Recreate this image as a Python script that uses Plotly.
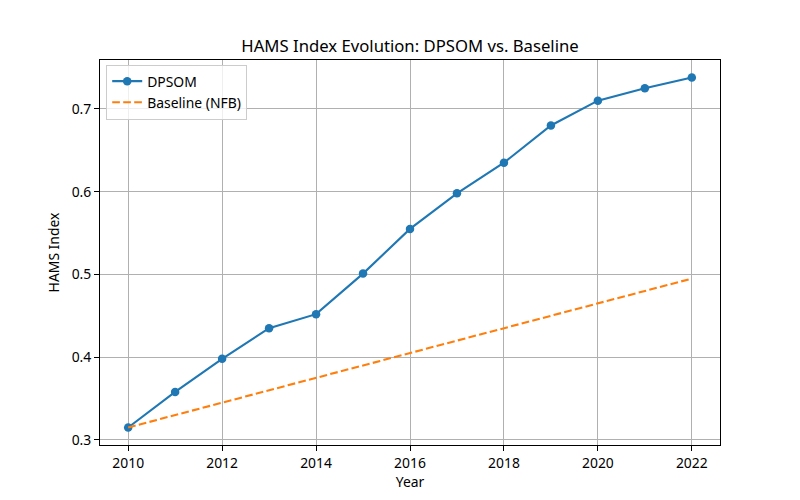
import plotly.graph_objects as go

years = [2010, 2011, 2012, 2013, 2014, 2015, 2016, 2017, 2018, 2019, 2020, 2021, 2022]
dpsom = [0.315, 0.358, 0.398, 0.435, 0.452, 0.501, 0.555, 0.598, 0.635, 0.680, 0.710, 0.725, 0.738]
baseline = [0.315, 0.330, 0.345, 0.360, 0.375, 0.390, 0.405, 0.420, 0.435, 0.450, 0.465, 0.480, 0.495]
x_ticks = [2010, 2012, 2014, 2016, 2018, 2020, 2022]
y_ticks = [0.3, 0.4, 0.5, 0.6, 0.7]

FONT = "Noto Sans, DejaVu Sans, sans-serif"

fig = go.Figure()
fig.add_trace(go.Scatter(
    x=years, y=dpsom, mode="lines+markers", name="DPSOM",
    line=dict(color="#1f77b4", width=2.1),
    marker=dict(color="#1f77b4", size=8.5, line=dict(width=0)),
))
fig.add_trace(go.Scatter(
    x=years, y=baseline, mode="lines", name="Baseline (NFB)",
    line=dict(color="#ff7f0e", width=2.1, dash="7.7px,3.3px"),
))

xmin, xmax = min(years), max(years)
xr = xmax - xmin
allv = dpsom + baseline
ymin, ymax = min(allv), max(allv)
yr = ymax - ymin

axis_common = dict(
    showgrid=True, gridcolor="#b0b0b0", gridwidth=1.1,
    showline=True, linecolor="black", linewidth=1.1, mirror=True,
    ticks="outside", ticklen=4.9, tickwidth=1.1, tickcolor="black",
    zeroline=False,
    tickfont=dict(family=FONT, size=13.9, color="black"),
    title_font=dict(family=FONT, size=13.9, color="black"),
)

fig.update_layout(
    width=800, height=500,
    margin=dict(l=92, r=88, t=52, b=63),
    paper_bgcolor="white", plot_bgcolor="white",
    title=dict(text="HAMS Index Evolution: DPSOM vs. Baseline", x=0.5025, xanchor="center",
               y=1 - 38 / 500, yanchor="middle",
               font=dict(family=FONT, size=16.7, color="black")),
    xaxis=dict(range=[xmin - 0.05 * xr, xmax + 0.05 * xr], tickvals=x_ticks,
               title=dict(text="Year", standoff=4), **axis_common),
    yaxis=dict(range=[ymin - 0.05 * yr, ymax + 0.05 * yr], tickvals=y_ticks, tickformat=".1f",
               title=dict(text="HAMS Index", standoff=8), **axis_common),
    legend=dict(x=0.01, y=0.988, xanchor="left", yanchor="top",
                bgcolor="rgba(255,255,255,0.8)", bordercolor="#cccccc", borderwidth=1,
                font=dict(family=FONT, size=13.9, color="black"),
                tracegroupgap=0, itemwidth=30),
    showlegend=True,
)

fig.write_html("out.html")
